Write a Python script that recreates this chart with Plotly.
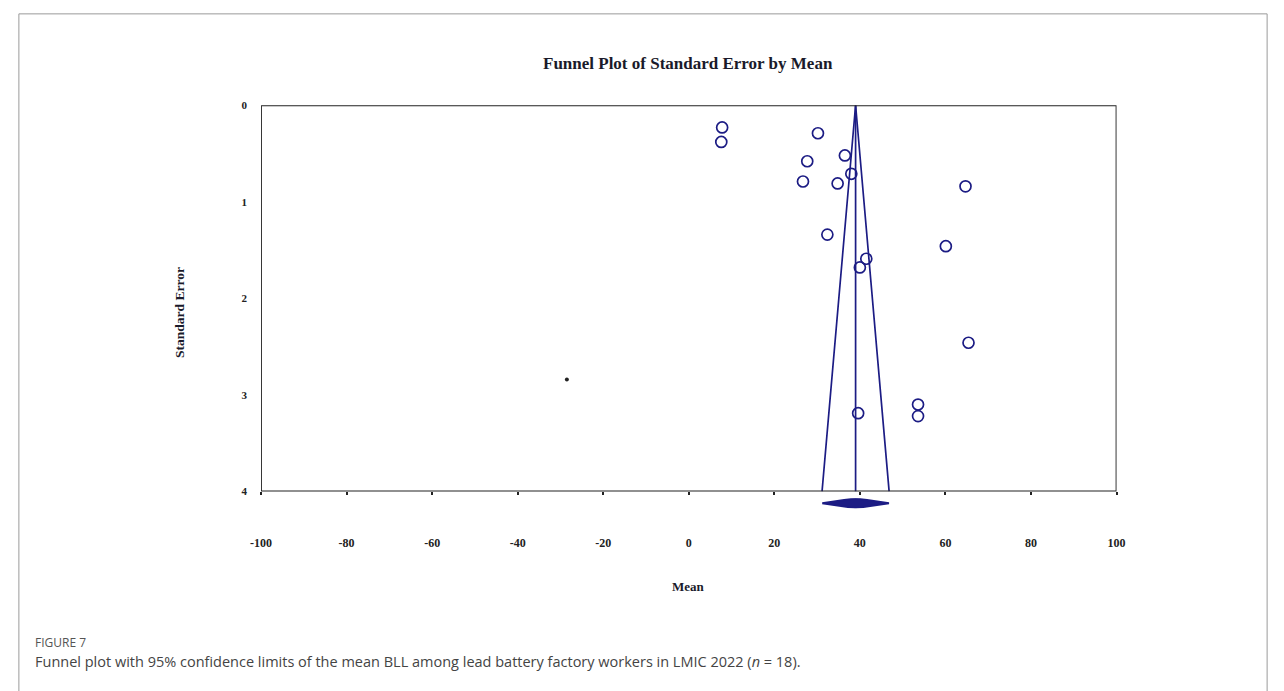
import plotly.graph_objects as go

# ---- data ----
study_mean = [7.8, 7.6, 30.2, 27.7, 36.5, 38.0, 26.7, 34.8, 64.7, 32.4, 60.1, 41.5, 40.0, 65.4, 39.6, 53.6, 53.6]
study_se = [0.23, 0.38, 0.29, 0.58, 0.52, 0.71, 0.79, 0.81, 0.84, 1.34, 1.46, 1.59, 1.68, 2.46, 3.19, 3.10, 3.22]
extra_mean = [-28.5]
extra_se = [2.84]
pooled_mean = 39.0
pooled_ci = [31.2, 46.8]
se_max = 4.0
x_ticks = [-100, -80, -60, -40, -20, 0, 20, 40, 60, 80, 100]
y_ticks = [0, 1, 2, 3, 4]

W, H = 1284, 691
def px(x):
    return x / W
def py(y):
    return 1 - y / H

navy = "#1c1c84"
serif = "Liberation Serif, Times New Roman, serif"

fig = go.Figure()

# funnel
lo = pooled_mean - 1.96 * se_max
hi = pooled_mean + 1.96 * se_max
fig.add_trace(go.Scatter(x=[lo, pooled_mean, hi], y=[se_max, 0, se_max], mode="lines",
                         line=dict(color=navy, width=1.7), xaxis="x", yaxis="y", hoverinfo="skip"))
fig.add_trace(go.Scatter(x=[pooled_mean, pooled_mean], y=[0, se_max], mode="lines",
                         line=dict(color=navy, width=1.7), xaxis="x", yaxis="y", hoverinfo="skip"))
# studies
fig.add_trace(go.Scatter(x=study_mean, y=study_se, mode="markers",
                         marker=dict(symbol="circle-open", size=11, color=navy, line=dict(width=1.7, color=navy)),
                         xaxis="x", yaxis="y"))
fig.add_trace(go.Scatter(x=extra_mean, y=extra_se, mode="markers",
                         marker=dict(symbol="circle", size=4, color="#222222"),
                         xaxis="x", yaxis="y"))
# diamond
fig.add_trace(go.Scatter(x=[pooled_ci[0], pooled_mean, pooled_ci[1], pooled_mean, pooled_ci[0]],
                         y=[0, 1, 0, -1, 0], mode="lines", fill="toself", fillcolor=navy,
                         line=dict(color=navy, width=2), xaxis="x2", yaxis="y2", hoverinfo="skip"))

x0, x1 = 254, 1123
y0, y1 = 101, 494
fig.update_layout(
    width=W, height=H,
    margin=dict(l=0, r=0, t=0, b=0),
    paper_bgcolor="white", plot_bgcolor="white",
    showlegend=False,
    xaxis=dict(domain=[px(x0), px(x1)], range=[-100, 100], anchor="y",
               tickvals=x_ticks, ticks="outside", ticklen=3, tickcolor="#222", tickwidth=1.5,
               showticklabels=False, showgrid=False, zeroline=False, showline=False),
    yaxis=dict(domain=[py(y1), py(y0)], range=[4, 0], anchor="x",
               tickvals=y_ticks, ticktext=["<b>%d</b>" % v for v in y_ticks], ticks="",
               ticklabelstandoff=13,
               tickfont=dict(family=serif, size=11, color="#222"),
               showgrid=False, zeroline=False, showline=False),
    xaxis2=dict(domain=[px(x0), px(x1)], range=[-100, 100], anchor="y2", matches="x",
                tickvals=x_ticks, ticktext=["<b>%d</b>" % v for v in x_ticks], ticks="",
                ticklabelstandoff=26,
                tickfont=dict(family=serif, size=12, color="#222"),
                showgrid=False, zeroline=False, showline=False),
    yaxis2=dict(domain=[py(511), py(501)], range=[-1, 1], anchor="x2",
                visible=False, showgrid=False, zeroline=False),
    shapes=[
        dict(type="rect", xref="x", yref="y", x0=-100, x1=100, y0=0, y1=4,
             line=dict(color="#222", width=1.8), layer="above"),
        dict(type="rect", xref="paper", yref="paper", x0=px(8), x1=px(1276), y0=py(700), y1=py(8),
             line=dict(color="#9a9a9a", width=1)),
    ],
    annotations=[
        dict(text="<b>Funnel Plot of Standard Error by Mean</b>", x=px(688), y=py(59),
             xanchor="center", yanchor="middle",
             xref="paper", yref="paper", showarrow=False, font=dict(family=serif, size=17, color="#1a1a2a")),
        dict(text="<b>Standard Error</b>", x=px(171), y=py(312), textangle=-90,
             xanchor="center", yanchor="middle",
             xref="paper", yref="paper", showarrow=False, font=dict(family=serif, size=13.5, color="#1a1a2a")),
        dict(text="<b>Mean</b>", x=px(688), y=py(591),
             xanchor="center", yanchor="middle",
             xref="paper", yref="paper", showarrow=False, font=dict(family=serif, size=13, color="#1a1a2a")),
        dict(text="FIGURE 7", x=px(22), y=py(648), xanchor="left", yanchor="middle",
             xref="paper", yref="paper", showarrow=False, font=dict(family="Open Sans", size=12, color="#555")),
        dict(text="Funnel plot with 95% confidence limits of the mean BLL among lead battery factory workers in LMIC 2022 (<i>n</i> = 18).",
             x=px(22), y=py(667), xanchor="left", yanchor="middle",
             xref="paper", yref="paper", showarrow=False, font=dict(family="Open Sans", size=14.5, color="#444")),
    ],
)

fig.write_html("out.html", config={"displayModeBar": False},
               post_script="document.body.style.margin='0';document.body.style.overflow='hidden';")
